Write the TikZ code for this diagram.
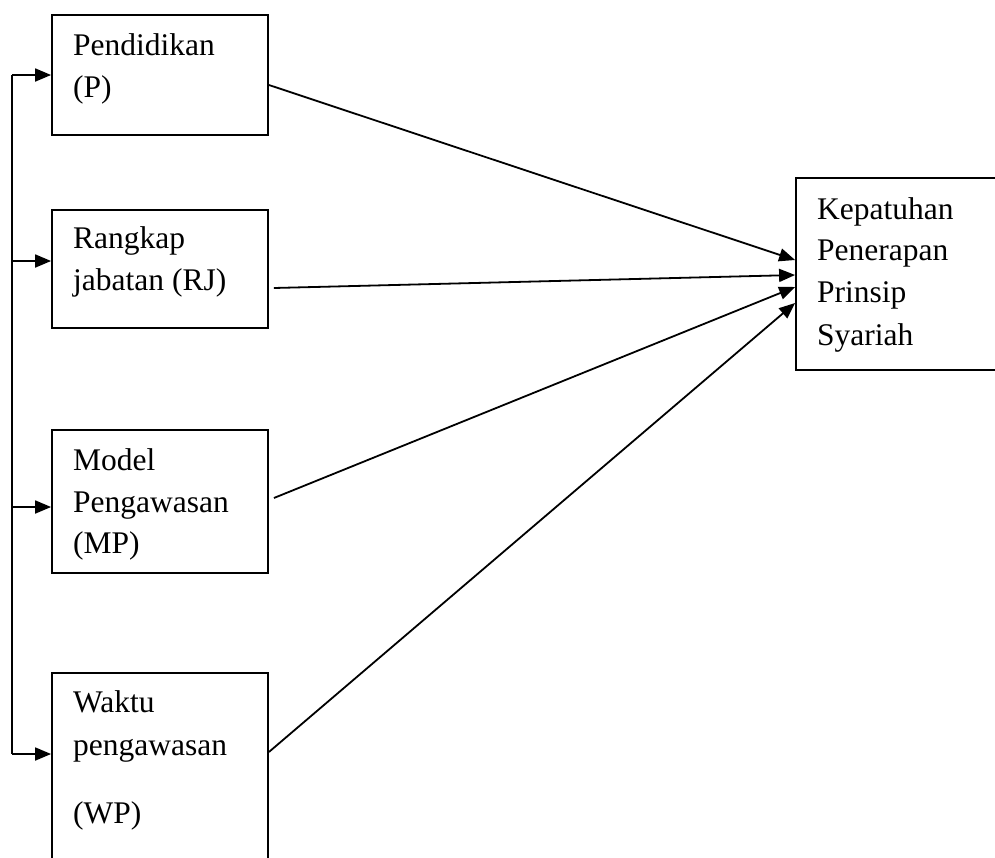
\documentclass[tikz,border=0pt]{standalone}
\usepackage{fontspec}
\setmainfont{Liberation Serif}
\usetikzlibrary{arrows.meta}
\begin{document}
\begin{tikzpicture}[x=1pt,y=-1pt,
  box/.style={draw,line width=1.8pt,rectangle,inner sep=0pt},
  lbl/.style={inner sep=0pt,anchor=base west,font=\fontsize{31.5}{36}\selectfont},
  arr/.style={line width=1.8pt,-{Triangle[length=16pt,width=13pt]}},
  ln/.style={line width=1.8pt}]
\useasboundingbox (0,0) rectangle (995,857);
% boxes
\node[box,minimum width=216pt,minimum height=120pt] (P) at (160,75) {};
\node[box,minimum width=216pt,minimum height=118pt] (RJ) at (160,269) {};
\node[box,minimum width=216pt,minimum height=143pt] (MP) at (160,501.5) {};
\node[box,minimum width=216pt,minimum height=207pt] (WP) at (160,776.5) {};
\node[box,minimum width=214pt,minimum height=192pt] (K) at (903,274) {};
% texts
\node[lbl] (p1) at (73,55) {Pendidikan};
\node[lbl] (p2) at (73,97) {(P)};
\node[lbl] (r1) at (73,248) {Rangkap};
\node[lbl] (r2) at (73,290) {jabatan (RJ)};
\node[lbl] (m1) at (73,470) {Model};
\node[lbl] (m2) at (73,512) {Pengawasan};
\node[lbl] (m3) at (73,553) {(MP)};
\node[lbl] (w1) at (73,712) {Waktu};
\node[lbl] (w2) at (73,755) {pengawasan};
\node[lbl] (w3) at (73,823) {(WP)};
\node[lbl] (k1) at (817,219) {Kepatuhan};
\node[lbl] (k2) at (817,260) {Penerapan};
\node[lbl] (k3) at (817,302) {Prinsip};
\node[lbl] (k4) at (817,345) {Syariah};
% left spine
\coordinate (spine) at (12,0);
\coordinate (Pin) at (P.west);
\coordinate (RJin) at ([yshift=8pt]RJ.west);
\coordinate (MPin) at ([yshift=-5.5pt]MP.west);
\coordinate (WPin) at ([yshift=22.5pt]WP.west);
\draw[ln] (spine |- Pin) -- (spine |- WPin);
\draw[arr] (spine |- Pin) -- (Pin);
\draw[arr] (spine |- RJin) -- (RJin);
\draw[arr] (spine |- MPin) -- (MPin);
\draw[arr] (spine |- WPin) -- (WPin);
% to K
\draw[arr] ([yshift=-10pt]P.east) -- ([yshift=14pt]K.west);
\draw[arr] ([xshift=5pt,yshift=-19pt]RJ.east) -- ([yshift=-1pt]K.west);
\draw[arr] ([xshift=5pt,yshift=3.5pt]MP.east) -- ([yshift=-13pt]K.west);
\draw[arr] ([yshift=24.5pt]WP.east) -- ([yshift=-29pt]K.west);
\end{tikzpicture}
\end{document}
